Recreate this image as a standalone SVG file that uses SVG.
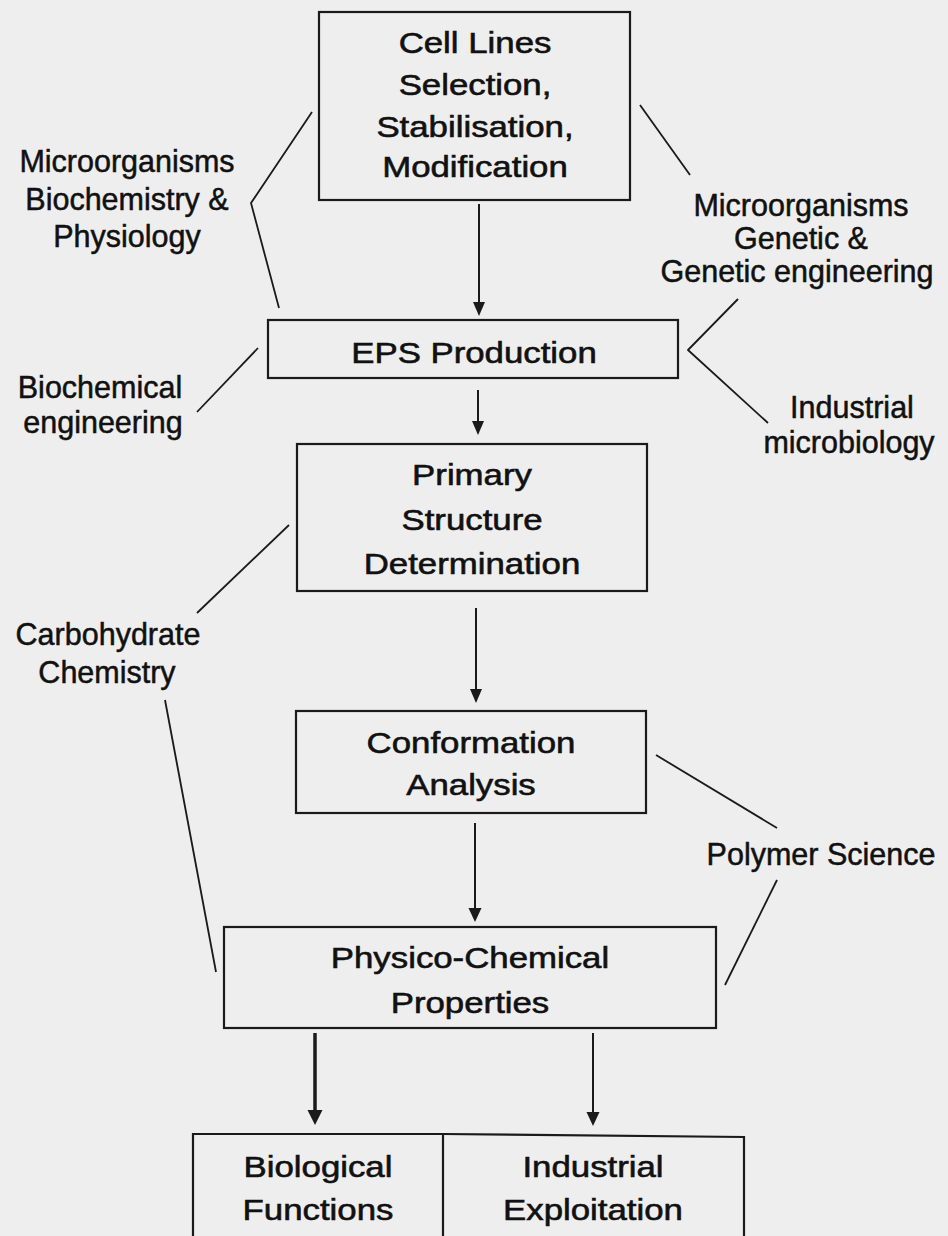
<svg xmlns="http://www.w3.org/2000/svg" width="948" height="1236" viewBox="0 0 948 1236">
<style>
.box{fill:none;stroke:#1a1a1a;stroke-width:2.2}
.con{fill:none;stroke:#1a1a1a;stroke-width:1.8;stroke-linejoin:round}
.arr{fill:none;stroke:#1a1a1a;stroke-width:2}
.bt{font-family:"Liberation Sans",Arial,sans-serif;font-size:30px;fill:#111111;stroke:#111111;stroke-width:0.6;text-anchor:middle}
.lb{font-family:"Liberation Sans",Arial,sans-serif;font-size:30.5px;fill:#111111;stroke:#111111;stroke-width:0.5;text-anchor:middle}
</style>
<rect width="948" height="1236" fill="#eeeeee"/>
<g id="connectors">
<line class="arr" x1="479" y1="204" x2="479" y2="302"/>
<path d="M473,302 L485,302 L479,316 Z" fill="#1a1a1a"/>
<line class="arr" x1="478" y1="390" x2="478" y2="421"/>
<path d="M472,421 L484,421 L478,435 Z" fill="#1a1a1a"/>
<line class="arr" x1="476" y1="608" x2="476" y2="689"/>
<path d="M470,689 L482,689 L476,703 Z" fill="#1a1a1a"/>
<line class="arr" x1="475" y1="823" x2="475" y2="908"/>
<path d="M468.5,908 L481.5,908 L475,922 Z" fill="#1a1a1a"/>
<line class="arr" x1="315" y1="1033" x2="315" y2="1110" style="stroke-width:3.5"/>
<path d="M307.5,1110 L322.5,1110 L315,1125 Z" fill="#1a1a1a"/>
<line class="arr" x1="593" y1="1033" x2="593" y2="1112"/>
<path d="M586.5,1112 L599.5,1112 L593,1126 Z" fill="#1a1a1a"/>
<polyline class="con" points="312,112 251,203 279,308"/>
<line class="con" x1="640" y1="105" x2="690" y2="175"/>
<polyline class="con" points="738,299 688,350 768,423"/>
<line class="con" x1="258" y1="348" x2="197" y2="412"/>
<line class="con" x1="289" y1="525" x2="197" y2="613"/>
<line class="con" x1="165" y1="700" x2="216" y2="972"/>
<line class="con" x1="656" y1="755" x2="777" y2="828"/>
<line class="con" x1="777" y1="880" x2="725" y2="985"/>
</g>
<g id="cell-lines">
<rect class="box" x="319" y="12" width="311" height="188"/>
<text class="bt" transform="translate(475,53) scale(1.16,1)">Cell Lines</text>
<text class="bt" transform="translate(475,95) scale(1.16,1)">Selection,</text>
<text class="bt" transform="translate(475,137) scale(1.16,1)">Stabilisation,</text>
<text class="bt" transform="translate(475,177) scale(1.16,1)">Modification</text>
</g>
<g id="eps-production">
<rect class="box" x="268" y="320" width="410" height="58"/>
<text class="bt" transform="translate(474,363) scale(1.16,1)">EPS Production</text>
</g>
<g id="primary-structure">
<rect class="box" x="297" y="444" width="350" height="147"/>
<text class="bt" transform="translate(472,485) scale(1.16,1)">Primary</text>
<text class="bt" transform="translate(472,530) scale(1.16,1)">Structure</text>
<text class="bt" transform="translate(472,574) scale(1.16,1)">Determination</text>
</g>
<g id="conformation">
<rect class="box" x="296" y="711" width="350" height="102"/>
<text class="bt" transform="translate(471,753) scale(1.16,1)">Conformation</text>
<text class="bt" transform="translate(471,795) scale(1.16,1)">Analysis</text>
</g>
<g id="physico-chemical">
<rect class="box" x="224" y="927" width="492" height="101"/>
<text class="bt" transform="translate(470,968) scale(1.16,1)">Physico-Chemical</text>
<text class="bt" transform="translate(470,1013) scale(1.16,1)">Properties</text>
</g>
<g id="biological-functions">
<path class="box" d="M193,1250 V1134 H443 V1250"/>
<text class="bt" transform="translate(318,1177) scale(1.16,1)">Biological</text>
<text class="bt" transform="translate(318,1220) scale(1.16,1)">Functions</text>
</g>
<g id="industrial-exploitation">
<path class="box" d="M443,1134 L744,1137 V1250"/>
<text class="bt" transform="translate(593,1177) scale(1.16,1)">Industrial</text>
<text class="bt" transform="translate(593,1220) scale(1.16,1)">Exploitation</text>
</g>
<g id="label-microbiochem">
<text class="lb" x="127" y="172">Microorganisms</text>
<text class="lb" x="127" y="210">Biochemistry &amp;</text>
<text class="lb" x="127" y="247">Physiology</text>
</g>
<g id="label-microgenetic">
<text class="lb" x="801" y="216">Microorganisms</text>
<text class="lb" x="801" y="249">Genetic &amp;</text>
<text class="lb" x="797" y="282">Genetic engineering</text>
</g>
<g id="label-biochemical-eng">
<text class="lb" x="100" y="398">Biochemical</text>
<text class="lb" x="103" y="433">engineering</text>
</g>
<g id="label-industrial-micro">
<text class="lb" x="852" y="418">Industrial</text>
<text class="lb" x="849" y="453">microbiology</text>
</g>
<g id="label-carbohydrate">
<text class="lb" x="108" y="645">Carbohydrate</text>
<text class="lb" x="107" y="683">Chemistry</text>
</g>
<g id="label-polymer">
<text class="lb" x="821" y="865">Polymer Science</text>
</g>
</svg>
